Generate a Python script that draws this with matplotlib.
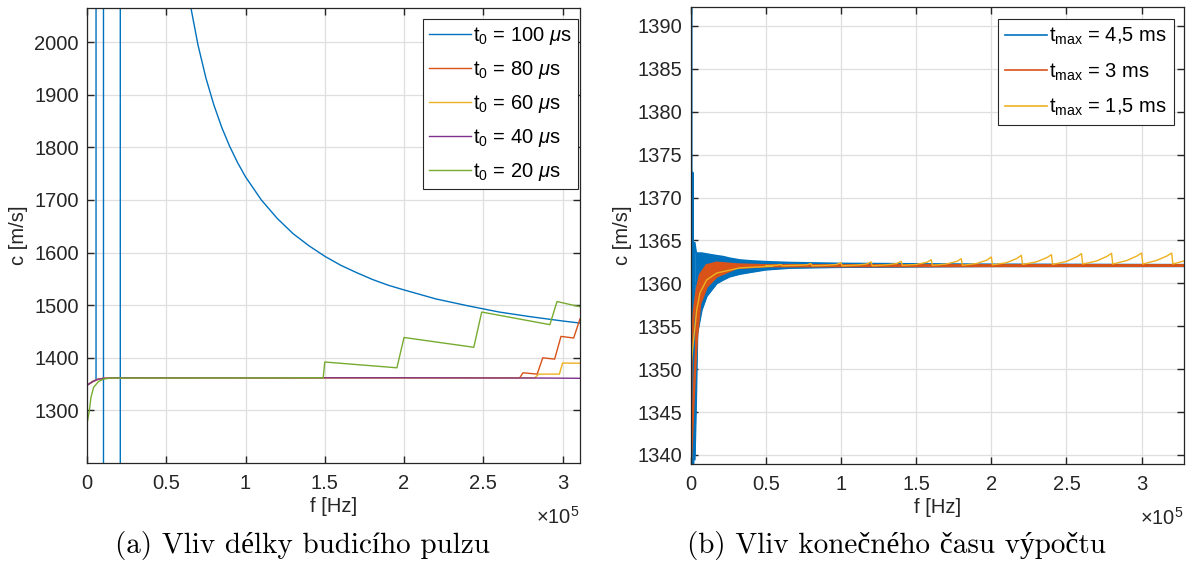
import numpy as np
import matplotlib
matplotlib.use('Agg')
import matplotlib.pyplot as plt
from matplotlib.ticker import FuncFormatter

plt.rcParams['font.family'] = ['Liberation Sans', 'DejaVu Sans']
plt.rcParams['mathtext.fontset'] = 'custom'
plt.rcParams['mathtext.rm'] = 'Liberation Sans'
plt.rcParams['mathtext.it'] = 'Liberation Sans:italic'

# barvy MATLABu
c_blue = '#0072BD'
c_orange = '#D95319'
c_yellow = '#EDB120'
c_purple = '#7E2F8E'
c_green = '#77AC30'
fs = 14.5

# ---- (a) vliv delky budiciho pulzu, f v jednotkach 1e5 Hz ----
f100 = [0.0, 0.03, 0.057, 0.057, 0.104, 0.104, 0.21, 0.21, 0.5, 0.6, 0.65, 0.70, 0.75,
        0.80, 0.85, 0.90, 0.95, 1.0, 1.1, 1.2, 1.3, 1.4, 1.5, 1.6, 1.7, 1.8, 1.9, 2.0,
        2.2, 2.4, 2.6, 2.8, 3.0, 3.11]
c100 = [1347.8, 1354.0, 1358.0, 3000, 3000, 1000, 1000, 3000, 2400, 2175, 2074, 1995,
        1932, 1881, 1838, 1802, 1771, 1744, 1700, 1665, 1636, 1613, 1593, 1576, 1562,
        1549, 1538, 1529, 1512, 1499, 1487, 1478, 1470, 1466]

f80 = [0.0, 0.04, 0.07, 0.105, 0.2, 2.73, 2.75, 2.84, 2.875, 2.95, 2.99, 3.07, 3.11]
c80 = [1347.8, 1355.4, 1359.2, 1361.0, 1362.0, 1362.0, 1371.5, 1369.0, 1400.0, 1397.5,
       1440.7, 1437.6, 1474.0]

f60 = [0.0, 0.04, 0.07, 0.105, 0.2, 2.825, 2.85, 2.98, 3.0, 3.11]
c60 = [1347.8, 1355.4, 1359.2, 1361.0, 1362.0, 1362.0, 1369.0, 1369.0, 1390.0, 1389.7]

f40 = [0.0, 0.04, 0.07, 0.105, 0.2, 2.0, 2.9, 3.11]
c40 = [1347.8, 1355.4, 1359.2, 1361.0, 1362.0, 1362.0, 1361.5, 1361.0]

f20 = [0.004, 0.015, 0.025, 0.042, 0.073, 0.105, 0.147, 1.49, 1.50, 1.955, 2.0,
       2.44, 2.49, 2.92, 2.965, 3.11]
c20 = [1281, 1300, 1325, 1344, 1355, 1359.5, 1361.5, 1362, 1392, 1381, 1438.6,
       1420, 1487, 1463, 1507, 1497]

labels_a = [r't$_0$ = 100 $\mu$s', r't$_0$ = 80 $\mu$s', r't$_0$ = 60 $\mu$s',
            r't$_0$ = 40 $\mu$s', r't$_0$ = 20 $\mu$s']

# ---- (b) vliv konecneho casu vypoctu ----
# t_max = 4,5 ms: pocatecni spicky a obalka rychlych oscilaci
b45_start_f = [0.0, 0.004, 0.008, 0.013, 0.017, 0.022, 0.026]
b45_start_c = [1338.0, 1400.0, 1338.0, 1372.9, 1338.5, 1364.7, 1340.0]
b45_env_f = [0.026, 0.035, 0.044, 0.073, 0.106, 0.173, 0.214, 0.261, 0.327, 0.394,
             0.5, 0.66, 0.99, 1.5, 2.0, 3.28]
b45_upper = [1364.7, 1363.6, 1363.5, 1363.5, 1363.4, 1363.2, 1363.1, 1362.9, 1362.7,
             1362.6, 1362.5, 1362.4, 1362.3, 1362.25, 1362.2, 1362.15]
b45_lower = [1339.5, 1346.0, 1354.2, 1356.9, 1358.5, 1360.0, 1360.4, 1360.8, 1361.1,
             1361.3, 1361.6, 1361.8, 1361.9, 1361.95, 1362.0, 1362.0]

# t_max = 3 ms
b3_env_f = [0.0, 0.007, 0.02, 0.04, 0.062, 0.106, 0.173, 0.305, 0.5, 3.28]
b3_lower = [1339.0, 1341.5, 1347.0, 1353.5, 1357.6, 1359.6, 1360.8, 1361.8, 1362.0, 1362.05]
b3_upper = [1346.0, 1353.0, 1356.5, 1359.2, 1361.0, 1362.1, 1362.4, 1362.2, 1362.1, 1362.1]

# t_max = 1,5 ms: nabeh a pilovite spicky
b15_start_f = [0.0, 0.017, 0.04, 0.062, 0.106, 0.173, 0.327, 0.546]
b15_start_c = [1350.3, 1353.0, 1356.9, 1358.9, 1360.4, 1361.2, 1361.8, 1362.0]
tooth_f = [0.6, 0.8, 1.0, 1.2, 1.4, 1.6, 1.8, 2.0, 2.2, 2.4, 2.6, 2.8, 3.0, 3.2]
tooth_peak = [1362.2, 1362.3, 1362.4, 1362.5, 1362.56, 1362.75, 1362.87, 1363.07,
              1363.26, 1363.34, 1363.46, 1363.5, 1363.53, 1363.53]
tooth_mid = [1362.05, 1362.1, 1362.1, 1362.12, 1362.15, 1362.2, 1362.25, 1362.3,
             1362.4, 1362.5, 1362.55, 1362.6, 1362.65, 1362.67]
tooth_late = [1362.1, 1362.15, 1362.2, 1362.25, 1362.3, 1362.45, 1362.55, 1362.7,
              1362.9, 1363.0, 1363.1, 1363.15, 1363.2, 1363.2]
tooth_drop = [1362.05, 1362.05, 1362.05, 1362.05, 1362.1, 1362.1, 1362.1, 1362.15,
              1362.2, 1362.2, 1362.25, 1362.25, 1362.25, 1362.25]
b15_end_f = 3.28
b15_end_c = 1362.6

labels_b = [r't$_{\rm max}$ = 4,5 ms', r't$_{\rm max}$ = 3 ms', r't$_{\rm max}$ = 1,5 ms']

# slozeni pilovite krivky z odectenych hodnot
yf = list(b15_start_f)
yc = list(b15_start_c)
for k in range(len(tooth_f)):
    yf += [tooth_f[k] - 0.1, tooth_f[k] - 0.03, tooth_f[k], tooth_f[k] + 0.008]
    yc += [tooth_mid[k], tooth_late[k], tooth_peak[k], tooth_drop[k]]
yf.append(b15_end_f)
yc.append(b15_end_c)


def styl(ax):
    ax.grid(True, color='#dfdfdf', lw=0.9)
    ax.set_axisbelow(True)
    ax.tick_params(direction='in', top=True, right=True, length=5, width=1,
                   color='#262626', labelsize=fs, labelcolor='#262626')
    ax.tick_params(axis='x', pad=8)
    ax.tick_params(axis='y', pad=6)
    for s in ax.spines.values():
        s.set_color('#262626')
        s.set_linewidth(0.9)
    ax.xaxis.set_major_formatter(FuncFormatter(lambda v, p: '%g' % v))


fig = plt.figure(figsize=(11.95, 5.71), dpi=100)
ax1 = fig.add_axes([87 / 1195, 108 / 571, 493 / 1195, 455 / 571])
ax2 = fig.add_axes([690.7 / 1195, 107 / 571, 493 / 1195, 457 / 571])

# graf (a)
ax1.plot(f100, c100, color=c_blue, lw=1.0, label=labels_a[0])
ax1.plot(f80, c80, color=c_orange, lw=1.0, label=labels_a[1])
ax1.plot(f60, c60, color=c_yellow, lw=1.0, label=labels_a[2])
ax1.plot(f40, c40, color=c_purple, lw=1.0, label=labels_a[3])
ax1.plot(f20, c20, color=c_green, lw=1.0, label=labels_a[4])
ax1.set_xlim(0, 3.11)
ax1.set_ylim(1200, 2065)
ax1.set_xticks(np.arange(0, 3.01, 0.5))
ax1.set_yticks(np.arange(1300, 2001, 100))
styl(ax1)
ax1.set_xlabel('f [Hz]', fontsize=fs, color='#262626', labelpad=3)
ax1.set_ylabel('c [m/s]', fontsize=fs, color='#262626', labelpad=4)
ax1.text(1.0, -0.118, r'$\times10^5$', transform=ax1.transAxes, ha='right', va='center',
         fontsize=fs, color='#262626')
leg1 = ax1.legend(loc='upper right', bbox_to_anchor=(0.996, 0.976), fontsize=fs,
                  fancybox=False, edgecolor='#262626', framealpha=1, handlelength=2.1,
                  handletextpad=0.1, borderaxespad=0, labelspacing=0.6, borderpad=0.3)
leg1.get_frame().set_linewidth(0.8)

# graf (b)
ax2.plot(b45_start_f, b45_start_c, color=c_blue, lw=1.4, label=labels_b[0])
ax2.fill_between(b45_env_f, b45_lower, b45_upper, color=c_blue, lw=0)
ax2.plot(b45_env_f, b45_upper, color=c_blue, lw=1.5)
ax2.plot(b45_env_f, b45_lower, color=c_blue, lw=1.5)
ax2.fill_between(b3_env_f, b3_lower, b3_upper, color=c_orange, lw=0)
ax2.plot(b3_env_f, b3_lower, color=c_orange, lw=1.8, label=labels_b[1])
ax2.plot(b3_env_f, b3_upper, color=c_orange, lw=1.8)
ax2.plot(yf, yc, color=c_yellow, lw=1.0, label=labels_b[2])
ax2.set_xlim(0, 3.28)
ax2.set_ylim(1338.95, 1392.2)
ax2.set_xticks(np.arange(0, 3.01, 0.5))
ax2.set_yticks(np.arange(1340, 1391, 5))
styl(ax2)
ax2.set_xlabel('f [Hz]', fontsize=fs, color='#262626', labelpad=3)
ax2.set_ylabel('c [m/s]', fontsize=fs, color='#262626', labelpad=4)
ax2.text(1.0, -0.118, r'$\times10^5$', transform=ax2.transAxes, ha='right', va='center',
         fontsize=fs, color='#262626')
leg2 = ax2.legend(loc='upper right', bbox_to_anchor=(0.98, 0.974), fontsize=fs,
                  fancybox=False, edgecolor='#262626', framealpha=1, handlelength=2.1,
                  handletextpad=0.1, borderaxespad=0, labelspacing=0.7, borderpad=0.35)
leg2.get_frame().set_linewidth(0.8)
for ln in leg2.get_lines():
    ln.set_linewidth(1.2)

# popisky podobrazku
cap_font = ['cmr10', 'Liberation Serif']
fig.text(302 / 1195, 1 - 546 / 571, '(a) Vliv délky budicího pulzu', ha='center',
         va='center', fontsize=21, family=cap_font)
fig.text(896 / 1195, 1 - 546 / 571, '(b) Vliv konečného času výpočtu', ha='center',
         va='center', fontsize=21, family=cap_font)

fig.savefig('out.png', dpi=100)
